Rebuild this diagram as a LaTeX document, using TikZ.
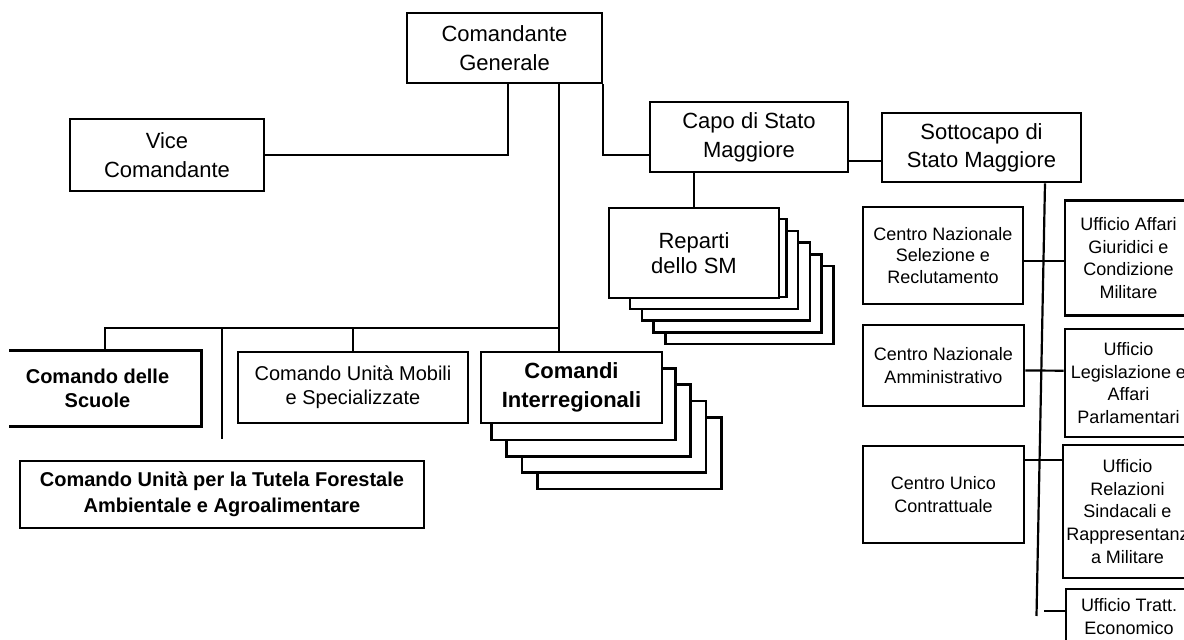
\documentclass[tikz,border=0pt]{standalone}
\usepackage{fontspec}
\setmainfont{Liberation Sans}
\usetikzlibrary{positioning,calc}

\tikzset{
  box/.style={draw, line width=1.3pt, fill=white, inner sep=0pt, align=center},
  boxline/.style={line width=1.3pt},
  stackbox/.style={draw, line width=1.3pt, fill=white},
  link/.style={line width=1.1pt},
  bigtext/.style={font=\fontsize{11}{14.5}\selectfont},
  midtext/.style={font=\fontsize{10}{12}\selectfont},
  smalltext/.style={font=\fontsize{9}{11.3}\selectfont}
}

\begin{document}
\begin{tikzpicture}[x=0.5pt, y=-0.5pt]
  \useasboundingbox (0,0) rectangle (1184,640);

  % Top of the chain
  \node[box, bigtext, minimum width=97.5pt, minimum height=35pt] (gen) at (504.5,48) {Comandante\\Generale};
  \node[box, bigtext, minimum width=97pt, minimum height=36pt] (vice) at (167,155) {Vice\\Comandante};
  \node[box, bigtext, minimum width=99pt, minimum height=35pt] (capo) at (749,137) {Capo di Stato\\Maggiore};
  \node[box, bigtext, font=\fontsize{11}{14}\selectfont, minimum width=99.5pt, minimum height=34.5pt] (sotto) at (981.5,147.5) {Sottocapo di\\Stato Maggiore};

  % Reparti dello SM (stacked)
  \foreach \i in {5,...,1}
    \draw[stackbox] ({606.5+11.8*\i},{207.5+11.7*\i}) rectangle ++(168,78);
  \node[box, font=\fontsize{11}{12.5}\selectfont, minimum width=85pt, minimum height=45pt] (reparti) at (694,253) {Reparti\\dello SM};

  % Comandi Interregionali (stacked)
  \foreach \i in {4,...,1}
    \draw[stackbox] ({476+15.3*\i},{352+16.4*\i}) rectangle ++(184,71.5);
  \node[box, font=\fontsize{11}{14.5}\selectfont\bfseries, minimum width=90.5pt, minimum height=35.5pt] (comandi) at (571.5,387.5) {Comandi\\Interregionali};

  % Comandi di vertice a sinistra
  \node[box, draw=none, fill=none, font=\fontsize{10}{12}\selectfont\bfseries, minimum width=102.5pt, minimum height=36.5pt] (scuole) at (97.5,388.5) {Comando delle\\Scuole};
  \coordinate (scl) at (9,0);
  \draw[boxline] (scl |- scuole.north) -- (scuole.north east) -- (scuole.south east) -- (scl |- scuole.south);
  \node[box, midtext, minimum width=115pt, minimum height=35.5pt] (mobili) at (353,387.5) {Comando Unità Mobili\\e Specializzate};
  \node[box, font=\fontsize{10}{13}\selectfont\bfseries, minimum width=202pt, minimum height=33.5pt] (tutela) at (222,494.5) {Comando Unità per la Tutela Forestale\\Ambientale e Agroalimentare};

  % Centri
  \node[box, font=\fontsize{9}{10.85}\selectfont, minimum width=80pt, minimum height=48.5pt] (cnsr) at (943,255.5) {Centro Nazionale\\Selezione e\\Reclutamento};
  \node[box, font=\fontsize{9}{11.5}\selectfont, minimum width=80.5pt, minimum height=40.5pt] (cnam) at (943.5,365.5) {Centro Nazionale\\Amministrativo};
  \node[box, font=\fontsize{9}{11.5}\selectfont, minimum width=80.5pt, minimum height=48.5pt] (cuc) at (943.5,494.5) {Centro Unico\\Contrattuale};

  % Uffici
  \node[box, smalltext, minimum width=63.5pt, minimum height=57.5pt] (uagm) at (1128.5,258) {Ufficio Affari\\Giuridici e\\Condizione\\Militare};
  \node[box, smalltext, minimum width=63.5pt, minimum height=54pt] (ulap) at (1128.5,383) {Ufficio\\Legislazione e\\Affari\\Parlamentari};
  \node[box, smalltext, minimum width=64.5pt, minimum height=66.5pt] (ursr) at (1127.5,511.5) {Ufficio\\Relazioni\\Sindacali e\\Rappresentanz\\a Militare};
  \node[box, smalltext, minimum width=63pt, minimum height=27.5pt] (ute) at (1129,616.5) {Ufficio Tratt.\\Economico};

  % Links
  \draw[link] ([xshift=1.6pt]gen.south) |- (vice.east);
  \draw[link] (gen.south east) |- ([yshift=-9pt]capo.west);
  \coordinate (cs) at ([yshift=-12pt]capo.east);
  \draw[link] (cs) -- (cs -| sotto.west);
  \draw[link] (reparti.north) -- (reparti.north |- capo.south);

  \coordinate (trunk) at (559,328);
  \draw[link] (trunk |- gen.south) -- (trunk |- comandi.north);
  \draw[link] (trunk) -| ([xshift=3.75pt]scuole.north);
  \draw[link] (mobili.north) -- (mobili.north |- trunk);
  \draw[link] (tutela.north |- trunk) -- ([yshift=10.5pt]tutela.north);

  \coordinate (spine) at (1036.5,616);
  \draw[link] ([xshift=31.75pt]sotto.south) -- (spine);
  \coordinate (cu) at ([yshift=-2.6pt]cnsr.east);
  \draw[link] (cu) -- (cu -| uagm.west);
  \draw[link] ([yshift=-2.5pt]cnam.east) -- ([yshift=6.15pt]ulap.west);
  \draw[link] ([yshift=17.25pt]cuc.east) -- ([yshift=25.75pt]ursr.west);
  \coordinate (dash) at (1044,610.7);
  \draw[link] (dash) -- (dash -| ute.west);
\end{tikzpicture}
\end{document}
